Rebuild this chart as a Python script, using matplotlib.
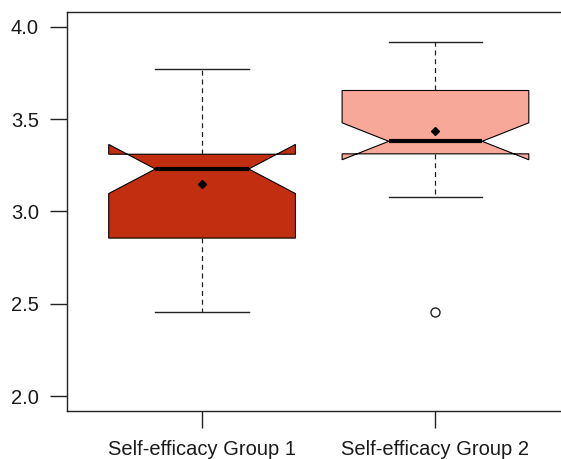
import matplotlib
matplotlib.use("Agg")
import matplotlib.pyplot as plt
from matplotlib.ticker import FormatStrFormatter

plt.rcParams['font.family'] = ['Liberation Sans', 'DejaVu Sans']

groups = ["Self-efficacy Group 1", "Self-efficacy Group 2"]
whisker_low = [2.457, 3.077]
q1 = [2.856, 3.312]
median = [3.230, 3.380]
q3 = [3.310, 3.655]
whisker_high = [3.772, 3.919]
notch_low = [3.097, 3.280]
notch_high = [3.363, 3.480]
means = [3.149, 3.438]
outliers = [[], [2.457]]
colors = ["#C22E10", "#F8A898"]

stats = []
for i, name in enumerate(groups):
    stats.append(dict(label=name, whislo=whisker_low[i], q1=q1[i], med=median[i],
                      q3=q3[i], whishi=whisker_high[i], cilo=notch_low[i],
                      cihi=notch_high[i], mean=means[i], fliers=outliers[i]))

fig = plt.figure(figsize=(5.61, 4.59), dpi=100)
ax = fig.add_axes([0.1189, 0.1046, 0.8986, 0.8693])

bp = ax.bxp(stats, positions=[1, 2], widths=0.8, shownotches=True,
            showmeans=True, patch_artist=True,
            boxprops=dict(edgecolor="black", linewidth=0.8),
            medianprops=dict(color="black", linewidth=3.0, solid_capstyle="butt"),
            whiskerprops=dict(color="#222222", linewidth=0.9, linestyle=(0, (4, 3))),
            capprops=dict(color="#222222", linewidth=1.0),
            meanprops=dict(marker="D", markerfacecolor="black",
                           markeredgecolor="black", markersize=4.5),
            flierprops=dict(marker="o", markerfacecolor="white",
                            markeredgecolor="#222222", markersize=6.5,
                            markeredgewidth=1.0))
for patch, c in zip(bp["boxes"], colors):
    patch.set_facecolor(c)

ax.set_xlim(0.42, 2.58)
ax.set_ylim(1.92, 4.08)
ax.set_yticks([2.0, 2.5, 3.0, 3.5, 4.0])
ax.yaxis.set_major_formatter(FormatStrFormatter("%.1f"))
ax.set_xticks([1, 2])
ax.set_xticklabels(groups)

for s in ax.spines.values():
    s.set_color("#222222")
    s.set_linewidth(1.0)
ax.tick_params(axis="both", length=12, width=1.0, color="#222222",
               labelsize=14.5, labelcolor="#1a1a1a")
ax.tick_params(axis="y", pad=8)
ax.tick_params(axis="x", pad=9)

fig.savefig("out.png", dpi=100)
